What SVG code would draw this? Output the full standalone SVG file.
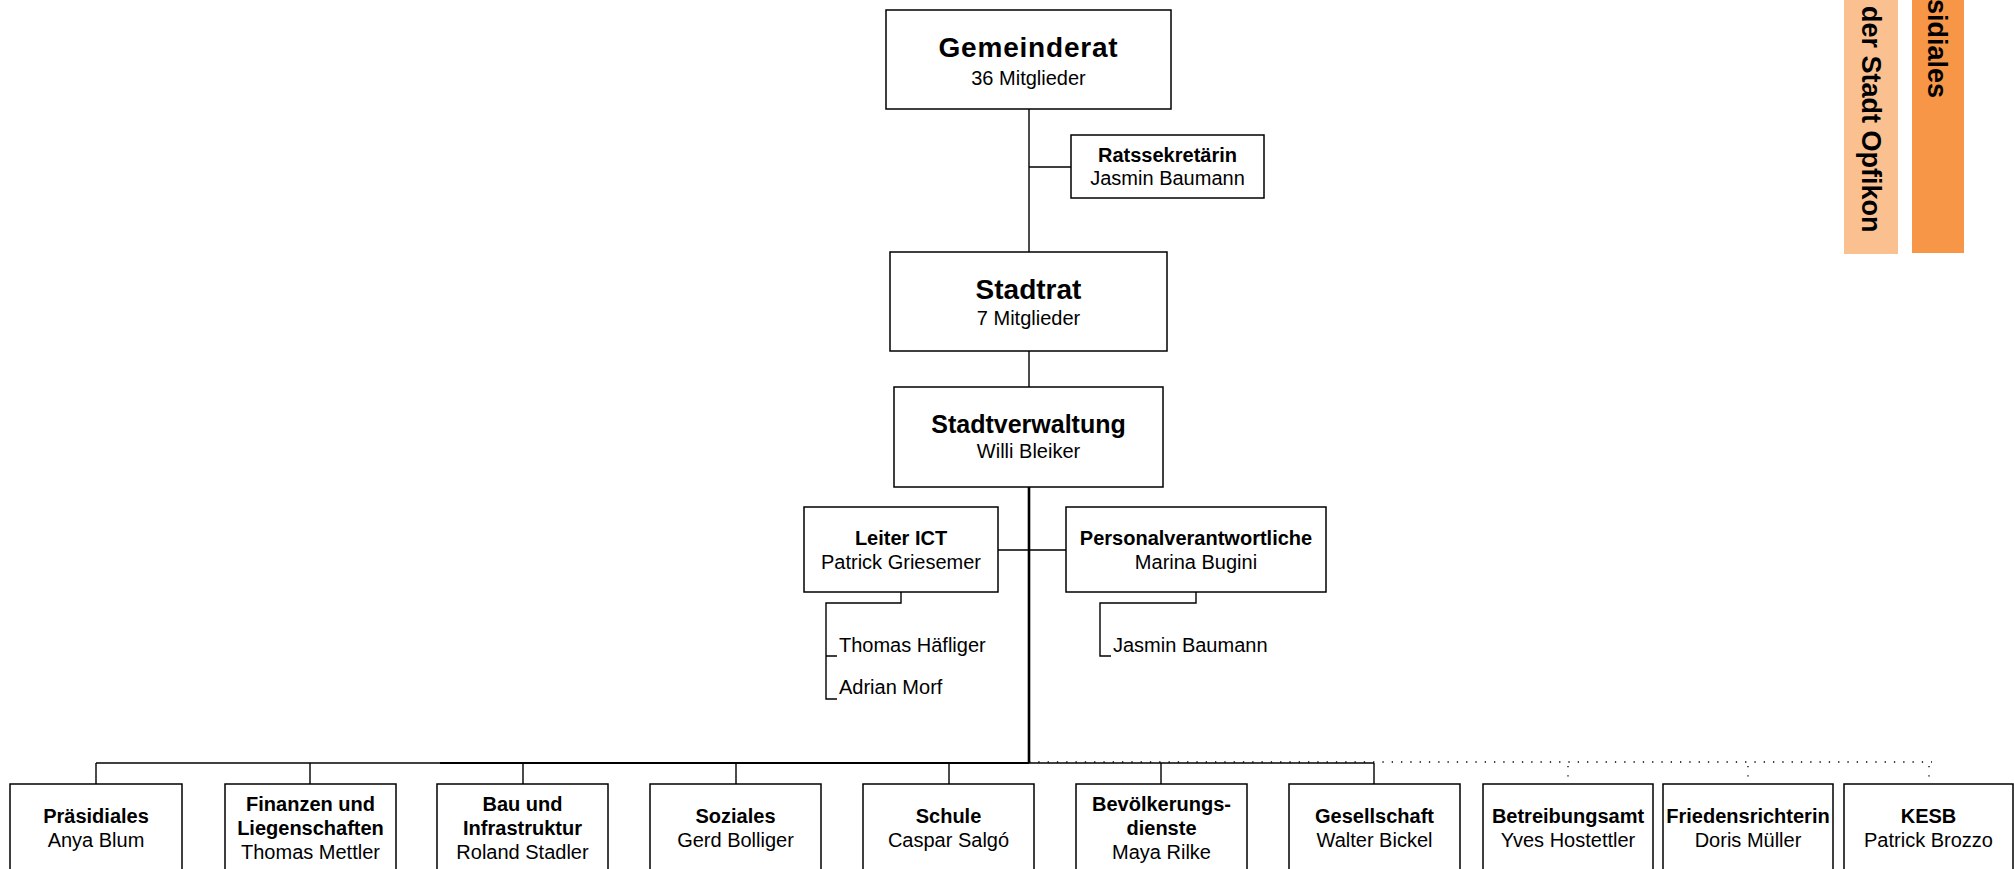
<svg xmlns="http://www.w3.org/2000/svg" width="2014" height="869" viewBox="0 0 2014 869">
<style>
.box{fill:#fff;stroke:#000;stroke-width:1.5}
.t{font-family:"Liberation Sans",Arial,sans-serif;font-size:20px;fill:#000;text-anchor:middle}
.b{font-weight:bold}
.l{text-anchor:start}
.ln{fill:none;stroke:#000;stroke-width:1.4}
.thick{fill:none;stroke:#000;stroke-width:2.6}
.dot{fill:none;stroke:#000;stroke-width:1.3;stroke-dasharray:1.3 8}
.side{font-family:"Liberation Sans",Arial,sans-serif;font-size:27px;font-weight:bold;fill:#000}
</style>
<rect width="2014" height="869" fill="#fff"/>
<g id="banners">
<rect x="1844" y="0" width="54" height="254" fill="#FAC090"/>
<rect x="1912" y="0" width="52" height="253" fill="#F79646"/>
<text class="side" transform="translate(1862,6) rotate(90)">der Stadt Opfikon</text>
<text class="side" transform="translate(1928,-1) rotate(90)">sidiales</text>
</g>
<g id="connectors">
<path class="ln" d="M1029 109V252M1029 167H1071M1029 351V387M998 550H1066"/>
<path class="thick" d="M1029 487V763"/>
<path class="ln" d="M901 592V603H826V699H837M826 656H837"/>
<path class="ln" d="M1196 592V603H1100V656H1111"/>
<path class="ln" d="M96 763H1374"/>
<path class="thick" d="M440 763H1029" style="stroke-width:2"/>
<path class="ln" d="M96 763V784M310 763V784M523 763V784M736 763V784M949 763V784M1161 763V784M1374 763V784"/>
<path class="dot" d="M1029 762H1932"/>
<path class="dot" d="M1568 766V784M1748 766V784M1929 766V784"/>
</g>
<g id="n-gemeinderat">
<rect class="box" x="886" y="10" width="285" height="99"/>
<text class="t b" x="1028.5" y="57" style="font-size:28px;letter-spacing:0.8px">Gemeinderat</text>
<text class="t" x="1028.5" y="85">36 Mitglieder</text>
</g>
<g id="n-ratssekretaerin">
<rect class="box" x="1071" y="135" width="193" height="63"/>
<text class="t b" x="1167.5" y="162">Ratssekretärin</text>
<text class="t" x="1167.5" y="185">Jasmin Baumann</text>
</g>
<g id="n-stadtrat">
<rect class="box" x="890" y="252" width="277" height="99"/>
<text class="t b" x="1028.5" y="299" style="font-size:28px">Stadtrat</text>
<text class="t" x="1028.5" y="325">7 Mitglieder</text>
</g>
<g id="n-stadtverwaltung">
<rect class="box" x="894" y="387" width="269" height="100"/>
<text class="t b" x="1028.5" y="433" style="font-size:25px">Stadtverwaltung</text>
<text class="t" x="1028.5" y="458">Willi Bleiker</text>
</g>
<g id="n-ict">
<rect class="box" x="804" y="507" width="194" height="85"/>
<text class="t b" x="901" y="545">Leiter ICT</text>
<text class="t" x="901" y="569">Patrick Griesemer</text>
<text class="t l" x="839" y="652">Thomas Häfliger</text>
<text class="t l" x="839" y="694">Adrian Morf</text>
</g>
<g id="n-personal">
<rect class="box" x="1066" y="507" width="260" height="85"/>
<text class="t b" x="1196" y="545">Personalverantwortliche</text>
<text class="t" x="1196" y="569">Marina Bugini</text>
<text class="t l" x="1113" y="652">Jasmin Baumann</text>
</g>
<g id="n-praesidiales">
<rect class="box" x="10" y="784" width="172" height="100"/>
<text class="t b" x="96" y="823">Präsidiales</text>
<text class="t" x="96" y="847">Anya Blum</text>
</g>
<g id="n-finanzen">
<rect class="box" x="225" y="784" width="171" height="100"/>
<text class="t b" x="310.5" y="811">Finanzen und</text>
<text class="t b" x="310.5" y="835">Liegenschaften</text>
<text class="t" x="310.5" y="859">Thomas Mettler</text>
</g>
<g id="n-bau">
<rect class="box" x="437" y="784" width="171" height="100"/>
<text class="t b" x="522.5" y="811">Bau und</text>
<text class="t b" x="522.5" y="835">Infrastruktur</text>
<text class="t" x="522.5" y="859">Roland Stadler</text>
</g>
<g id="n-soziales">
<rect class="box" x="650" y="784" width="171" height="100"/>
<text class="t b" x="735.5" y="823">Soziales</text>
<text class="t" x="735.5" y="847">Gerd Bolliger</text>
</g>
<g id="n-schule">
<rect class="box" x="863" y="784" width="171" height="100"/>
<text class="t b" x="948.5" y="823">Schule</text>
<text class="t" x="948.5" y="847">Caspar Salgó</text>
</g>
<g id="n-bevoelkerung">
<rect class="box" x="1076" y="784" width="171" height="100"/>
<text class="t b" x="1161.5" y="811">Bevölkerungs-</text>
<text class="t b" x="1161.5" y="835">dienste</text>
<text class="t" x="1161.5" y="859">Maya Rilke</text>
</g>
<g id="n-gesellschaft">
<rect class="box" x="1289" y="784" width="171" height="100"/>
<text class="t b" x="1374.5" y="823">Gesellschaft</text>
<text class="t" x="1374.5" y="847">Walter Bickel</text>
</g>
<g id="n-betreibungsamt">
<rect class="box" x="1483" y="784" width="170" height="100"/>
<text class="t b" x="1568" y="823">Betreibungsamt</text>
<text class="t" x="1568" y="847">Yves Hostettler</text>
</g>
<g id="n-friedensrichterin">
<rect class="box" x="1663" y="784" width="170" height="100"/>
<text class="t b" x="1748" y="823">Friedensrichterin</text>
<text class="t" x="1748" y="847">Doris Müller</text>
</g>
<g id="n-kesb">
<rect class="box" x="1844" y="784" width="169" height="100"/>
<text class="t b" x="1928.5" y="823">KESB</text>
<text class="t" x="1928.5" y="847">Patrick Brozzo</text>
</g>
</svg>
